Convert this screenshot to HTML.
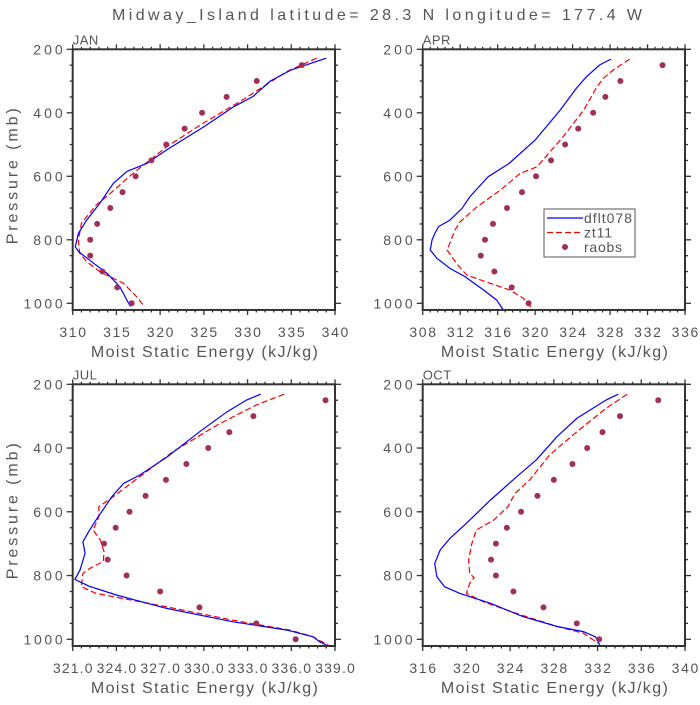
<!DOCTYPE html>
<html><head><meta charset="utf-8"><style>
body{margin:0;background:#fff}
svg text{font-family:"Liberation Sans","DejaVu Sans",sans-serif;fill:#555}
</style></head><body>
<svg id="c" width="700" height="700" viewBox="0 0 700 700" xmlns="http://www.w3.org/2000/svg">
<text x="112" y="20" font-size="16" textLength="530" lengthAdjust="spacing">Midway_Island  latitude= 28.3 N longitude= 177.4 W</text>
</svg>
<script>
const months=["JAN","APR","JUL","OCT"];
const xMins=[310,308,321,316];
const xMaxs=[340,336,339,340];
const xSteps=[5,4,3,4];
const xDecimals=[0,0,1,0];
const raobsP=[250,300,350,400,450,500,550,600,650,700,750,800,850,900,950,1000];
const raobs=[
[336.2,331.05,327.6,324.8,322.8,320.7,319.0,317.2,315.7,314.3,312.8,312.0,312.0,313.4,315.1,316.75],
[333.6,329.1,327.5,326.2,324.6,323.2,321.7,320.1,318.6,317.0,315.5,314.65,314.2,315.65,317.5,319.3],
[338.35,333.4,331.75,330.3,328.8,327.4,326.0,324.9,323.95,323.15,323.4,324.7,327.0,329.7,333.6,336.3],
[337.55,334.05,332.45,331.05,329.7,328.0,326.5,325.0,323.7,322.7,322.25,322.7,324.3,327.05,330.1,332.15]];
const dfltP=[
[228,265,300,349,381,444,517,559,585,622,685,738,780,822,837,874,905,948,990,1010],
[231,249,286,323,391,486,560,601,664,701,738,758,780,800,832,858,890,916,958,990,1021],
[231,249,286,349,427,485,511,552,626,662,694,730,783,812,833,861,903,945,971,992,1008,1018],
[231,249,281,307,364,437,490,563,636,683,720,762,804,835,856,887,929,960,976,992,1018]];
const dfltV=[
[339.0,335.0,332.6,330.6,328.4,325.0,320.75,318.5,316.2,314.65,313.1,311.6,310.65,310.3,310.65,312.4,313.9,315.4,316.2,316.6],
[328.1,326.9,325.5,324.4,322.7,320.0,317.2,315.0,313.05,312.2,310.9,309.7,309.3,309.0,308.8,309.5,310.9,312.5,314.5,315.9,316.6],
[333.9,332.95,331.6,329.7,327.5,325.6,324.5,323.7,322.6,322.1,321.7,321.85,321.5,321.15,322.1,324.0,327.45,332.0,335.7,337.5,337.95,338.4],
[333.9,332.8,331.3,330.1,328.3,326.4,324.6,322.2,320.0,318.5,317.6,317.1,317.3,318.0,319.4,322.2,325.2,328.3,330.7,331.8,332.2]];
const zt11P=[
[228,270,365,438,507,591,654,690,748,800,842,869,900,937,979,1010],
[231,265,291,318,391,475,570,591,643,696,743,769,832,874,911,937,958,984,1021],
[231,265,328,411,490,552,584,615,657,689,725,756,777,793,835,856,898,940,971,992,1004,1018],
[231,275,349,422,500,542,584,626,657,699,751,793,807,824,856,882,919,960,981,1002,1013]];
const zt11V=[
[337.9,334.5,329.1,324.6,320.75,316.9,314.3,312.7,311.0,310.65,310.8,311.6,313.1,315.8,317.3,318.2],
[330.1,328.35,327.3,326.6,325.2,323.0,320.2,318.4,316.3,313.8,312.0,311.45,310.6,311.6,312.7,315.2,317.3,318.75,319.8],
[335.5,333.6,330.9,327.9,325.6,323.8,322.8,322.8,322.4,322.9,323.15,323.1,322.2,321.7,321.6,322.6,327.45,332.0,335.9,337.5,337.95,338.55],
[334.7,332.8,330.1,327.6,325.8,324.45,323.8,322.5,320.9,320.5,320.2,320.3,320.7,320.3,320.0,321.55,324.6,328.3,330.7,331.6,332.1]];
const pTicks=[200,400,600,800,1000];

const svg=document.getElementById('c');const NS="http://www.w3.org/2000/svg";
function mk(tag,attrs,parent,txt){const e=document.createElementNS(NS,tag);for(const k in attrs)e.setAttribute(k,attrs[k]);if(txt!==undefined)e.textContent=txt;(parent||svg).appendChild(e);return e;}
const origins=[[72.7,49.3],[422.7,49.3],[72.7,384.3],[422.7,384.3]];
const W=262.3,PB=1021;
months.forEach((m,i)=>{
  const [ox,oy]=origins[i];
  const H=(i<2?254:255)/800;
  const X=v=>ox+(v-xMins[i])/(xMaxs[i]-xMins[i])*W;
  const Y=p=>oy+(p-200)*H;
  const g=mk('g',{});
  
  
  const bot=Y(PB);
  let t=mk('text',{x:ox,y:oy-5,'font-size':13,'letter-spacing':0.5},g,m);
  
  const step=xSteps[i],minor=step/5;
  for(let v=xMins[i],k=0;v<=xMaxs[i]+1e-6;v=xMins[i]+(++k)*minor){
    const maj=k%5===0,x=X(v),L=maj?5:2.5;
    mk('line',{x1:x,x2:x,y1:bot,y2:bot+L,stroke:'#333','stroke-width':1.3},g);
    mk('line',{x1:x,x2:x,y1:oy,y2:oy-L,stroke:'#333','stroke-width':1.3},g);
    if(maj){const s=v.toFixed(xDecimals[i]);
      const w=s.replace('.','').length*8.9+(s.includes('.')?4:0);
      const lb=mk('text',{x:x,y:bot+27,'font-size':14,'text-anchor':'middle',textLength:w,lengthAdjust:'spacing'},g,s);
      }
  }
  for(let p=200;p<=1000;p+=50){
    const maj=p%200===0,y=Y(p),L=maj?6:3;
    mk('line',{x1:ox-L,x2:ox,y1:y,y2:y,stroke:'#333','stroke-width':1.3},g);
    mk('line',{x1:ox+W,x2:ox+W+L,y1:y,y2:y,stroke:'#333','stroke-width':1.3},g);
  }
  pTicks.forEach(p=>{const s=String(p);const w=s.length*9.8;
    const lb=mk('text',{x:ox-10-w,y:Y(p)+5,'font-size':14,textLength:w,lengthAdjust:'spacing'},g,s);
    });
  const xt=mk('text',{x:ox+W/2-113,y:bot+47,'font-size':16,textLength:227,lengthAdjust:'spacing'},g,'Moist Static Energy (kJ/kg)');
  
  if(i%2===0){const yt=mk('text',{x:-68,y:0,'font-size':16,textLength:136,lengthAdjust:'spacing',transform:`translate(${ox-55},${oy+127}) rotate(-90)`},g,'Pressure (mb)');
    }
  const pd=(P,V)=>P.map((p,j)=>(j?'L':'M')+X(V[j]).toFixed(1)+','+Y(p).toFixed(1)).join(' ');
  const r=mk('path',{d:pd(zt11P[i],zt11V[i]),fill:'none',stroke:'#f00','stroke-width':1.2,'stroke-dasharray':'6,3'},g);
  
  const b=mk('path',{d:pd(dfltP[i],dfltV[i]),fill:'none',stroke:'#00f','stroke-width':1.2},g);
  
  raobs[i].forEach((v,j)=>{const c=mk('circle',{cx:X(v),cy:Y(raobsP[j]),r:3,fill:'#a0305a'},g);
    });
  mk('rect',{x:ox,y:oy,width:W,height:bot-oy,fill:'none',stroke:'#333','stroke-width':2},g);
});
const lg=mk('g',{});

mk('rect',{x:544,y:209,width:91,height:48,fill:'#fff',stroke:'#555','stroke-width':1},lg);
mk('line',{x1:547,x2:583,y1:218,y2:218,stroke:'#00f','stroke-width':1.2},lg);
mk('line',{x1:547,x2:583,y1:232.5,y2:232.5,stroke:'#f00','stroke-width':1.2,'stroke-dasharray':'6,3'},lg);
mk('circle',{cx:565,cy:247,r:3,fill:'#a0305a'},lg);
let e1=mk('text',{x:584,y:223,'font-size':14,textLength:48,lengthAdjust:'spacing'},lg,'dflt078');
let e2=mk('text',{x:584,y:237.5,'font-size':14,textLength:28,lengthAdjust:'spacing'},lg,'zt11');
let e3=mk('text',{x:584,y:252,'font-size':14,textLength:38,lengthAdjust:'spacing'},lg,'raobs');
</script>
</body></html>
